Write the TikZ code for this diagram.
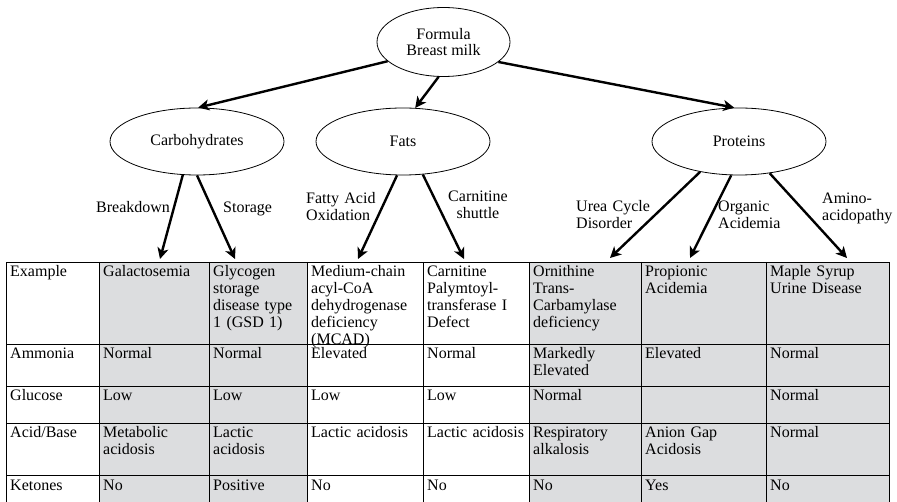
\documentclass[tikz,border=0pt]{standalone}
\usepackage{fontspec}
\setmainfont{Liberation Serif}
\usetikzlibrary{arrows.meta,shapes.geometric}

\definecolor{cellgray}{RGB}{220,221,223}
\newcommand\txtfont{\fontsize{16}{16.9}\selectfont}

\begin{document}
\begin{tikzpicture}[x=1pt,y=-1pt,
  bubble/.style={draw, ellipse, line width=0.8pt, inner sep=0pt,
    minimum width=174pt, minimum height=67pt, font=\txtfont, align=center},
  arr/.style={line width=2.4pt, -{Stealth[length=11pt,width=11pt,inset=3pt]}},
  lbl/.style={anchor=base west, inner sep=0pt, text width=90pt, align=left, font=\txtfont},
  cell/.style={anchor=base west, inner sep=0pt, text width=112pt, align=left, font=\txtfont},
  grid/.style={line width=0.8pt}]

\useasboundingbox (0,0) rectangle (897,502);

% ---------- tree ----------
\node[bubble, minimum width=133pt, minimum height=69pt] (milk) at (443.5,42) {Formula\\Breast milk};
\node[bubble] (carb) at (197,141.5) {Carbohydrates};
\node[bubble] (fats) at (403,141.5) {Fats};
\node[bubble] (prot) at (739,141.5) {Proteins};

\draw[arr] (milk.199) -- (carb.88);
\draw[arr] (milk.262) -- (fats.70);
\draw[arr] (milk.340) -- (prot.98);

% arrow ends on the table top
\coordinate (eBreak) at (160,259);
\coordinate (eStore) at (235,259);
\coordinate (eFao)   at (358,259);
\coordinate (eCarn)  at (464,259);
\coordinate (eUrea)  at (610,258);
\coordinate (eOrg)   at (690,258);
\coordinate (eAmino) at (847,258);

\draw[arr] (carb.247) -- (eBreak);
\draw[arr] (carb.270) -- (eStore);
\draw[arr] (fats.260) -- (eFao);
\draw[arr] (fats.301) -- (eCarn);
\draw[arr] (prot.218) -- (eUrea);
\draw[arr] (prot.257) -- (eOrg);
\draw[arr] (prot.314) -- (eAmino);

\node[lbl] (lBreak) at (96,213) {Breakdown};
\node[lbl] (lStore) at (223,213) {Storage};
\node[lbl] (lFao)   at (306,204) {Fatty Acid\\Oxidation};
\node[lbl, anchor=base, align=center, text width=70pt] (lCarn) at (478,202) {Carnitine\\shuttle};
\node[lbl] (lUrea)  at (576,212) {Urea Cycle\\Disorder};
\node[lbl] (lOrg)   at (718,212) {Organic\\Acidemia};
\node[lbl] (lAmino) at (822,204) {Amino-\\acidopathy};

% ---------- table ----------
\fill[cellgray] (99,262) rectangle (307,502);
\fill[cellgray] (529,262) rectangle (889,502);

\draw[grid] (6,502) -- (6,262) -- (889,262) -- (889,502);
\foreach \y in {344,386,423,475} \draw[grid] (6,\y) -- (889,\y);
\foreach \x in {99,209,307,423,529,641,766} \draw[grid] (\x,262) -- (\x,502);

% row: Example
\node[cell] (ex0) at (10,277) {Example};
\node[cell] (ex1) at (103,277) {Galactosemia};
\node[cell] (ex2) at (213,277) {Glycogen\\storage\\disease type\\1 (GSD 1)};
\node[cell] (ex3) at (311,277) {Medium-chain\\acyl-CoA\\dehydrogenase\\deficiency\\(MCAD)};
\node[cell] (ex4) at (427,277) {Carnitine\\Palymtoyl-\\transferase I\\Defect};
\node[cell] (ex5) at (533,277) {Ornithine\\Trans-\\Carbamylase\\deficiency};
\node[cell] (ex6) at (645,277) {Propionic\\Acidemia};
\node[cell] (ex7) at (770,277) {Maple Syrup\\Urine Disease};

% row: Ammonia
\node[cell] (am0) at (10,359) {Ammonia};
\node[cell] (am1) at (103,359) {Normal};
\node[cell] (am2) at (213,359) {Normal};
\node[cell] (am3) at (311,359) {Elevated};
\node[cell] (am4) at (427,359) {Normal};
\node[cell] (am5) at (533,359) {Markedly\\Elevated};
\node[cell] (am6) at (645,359) {Elevated};
\node[cell] (am7) at (770,359) {Normal};

% row: Glucose
\node[cell] (gl0) at (10,401) {Glucose};
\node[cell] (gl1) at (103,401) {Low};
\node[cell] (gl2) at (213,401) {Low};
\node[cell] (gl3) at (311,401) {Low};
\node[cell] (gl4) at (427,401) {Low};
\node[cell] (gl5) at (533,401) {Normal};
\node[cell] (gl7) at (770,401) {Normal};

% row: Acid/Base
\node[cell] (ab0) at (10,438) {Acid/Base};
\node[cell] (ab1) at (103,438) {Metabolic\\acidosis};
\node[cell] (ab2) at (213,438) {Lactic\\acidosis};
\node[cell] (ab3) at (311,438) {Lactic acidosis};
\node[cell] (ab4) at (427,438) {Lactic acidosis};
\node[cell] (ab5) at (533,438) {Respiratory\\alkalosis};
\node[cell] (ab6) at (645,438) {Anion Gap\\Acidosis};
\node[cell] (ab7) at (770,438) {Normal};

% row: Ketones
\node[cell] (ke0) at (10,490) {Ketones};
\node[cell] (ke1) at (103,490) {No};
\node[cell] (ke2) at (213,490) {Positive};
\node[cell] (ke3) at (311,490) {No};
\node[cell] (ke4) at (427,490) {No};
\node[cell] (ke5) at (533,490) {No};
\node[cell] (ke6) at (645,490) {Yes};
\node[cell] (ke7) at (770,490) {No};

\end{tikzpicture}
\end{document}
